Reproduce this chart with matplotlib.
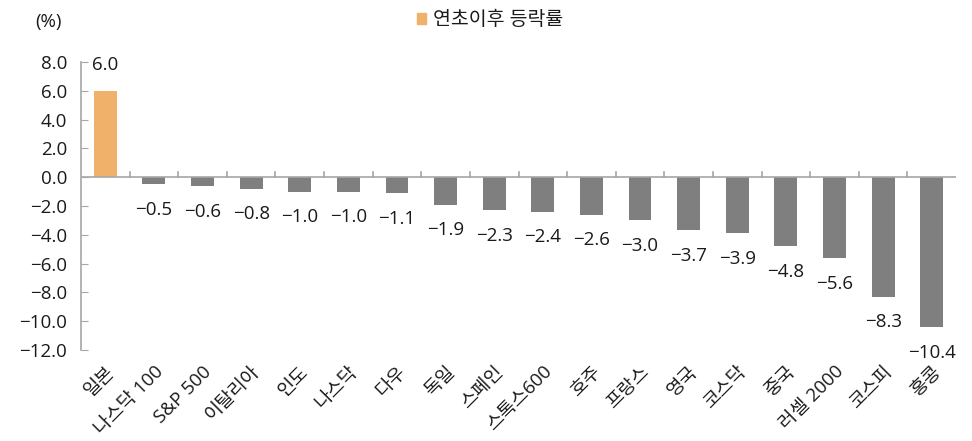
import matplotlib
matplotlib.use("Agg")
import matplotlib.pyplot as plt
from matplotlib.patches import Patch
import numpy as np

plt.rcParams['font.family'] = ['Open Sans', 'Noto Sans CJK KR', 'DejaVu Sans']
plt.rcParams['axes.unicode_minus'] = True

names = ["일본", "나스닥 100", "S&P 500", "이탈리아", "인도", "나스닥", "다우", "독일", "스페인",
         "스톡스600", "호주", "프랑스", "영국", "코스닥", "중국", "러셀 2000", "코스피", "홍콩"]
values = [6.0, -0.5, -0.6, -0.8, -1.0, -1.0, -1.1, -1.9, -2.3,
          -2.4, -2.6, -3.0, -3.7, -3.9, -4.8, -5.6, -8.3, -10.4]
series_name = "연초이후 등락률"
yticks = [8, 6, 4, 2, 0, -2, -4, -6, -8, -10, -12]

orange = "#F0B26B"
gray = "#7F7F7F"
axis_gray = "#A6A6A6"
txt = "#1a1a1a"
fs = 13.5

def fmt(v):
    return f"{v:.1f}".replace("-", "\u2212")

fig = plt.figure(figsize=(9.72, 4.41), dpi=100)
ax = fig.add_axes([81 / 972, 1 - 350 / 441, 875 / 972, 288 / 441])

x = np.arange(len(values))
colors = [orange if v > 0 else gray for v in values]
ax.bar(x, values, width=0.47, color=colors, zorder=2)

for xi, v in zip(x, values):
    off = 12 if v > 0 else -12
    ax.annotate(fmt(v), (xi, v), xytext=(0, off), textcoords="offset points",
                ha="center", va="bottom" if v > 0 else "top", fontsize=fs, color=txt)

ax.set_xlim(-0.5, len(values) - 0.5)
ax.set_ylim(-12, 8)
ax.set_yticks(yticks)
ax.set_yticklabels([fmt(t) for t in yticks], fontsize=fs, color=txt)
ax.tick_params(axis="y", direction="in", length=5, color=axis_gray, pad=10)

# category labels
ax.set_xticks(x)
ax.set_xticklabels(names, rotation=45, ha="right", rotation_mode="anchor", fontsize=13.5, color=txt)
ax.tick_params(axis="x", length=0, pad=9)

# zero line with category boundary ticks
ax.axhline(0, color=axis_gray, lw=1.2, zorder=3)
for b in np.arange(0.5, len(values) - 0.5, 1):
    ax.plot([b, b], [0, 0.35], color=axis_gray, lw=1.2, zorder=3)

for s in ["top", "right", "bottom"]:
    ax.spines[s].set_visible(False)
ax.spines["left"].set_color(axis_gray)
ax.spines["left"].set_linewidth(1.2)

fig.text(35 / 972, 1 - 22 / 441, "(%)", fontsize=fs, color=txt, va="center")

leg = fig.legend(handles=[Patch(color=orange)], labels=[series_name], loc="center",
                 bbox_to_anchor=(490 / 972, 1 - 20 / 441), frameon=False, fontsize=14,
                 handlelength=0.5, handleheight=0.5, handletextpad=0.35)
for t in leg.get_texts():
    t.set_color(txt)

fig.savefig("out.png", dpi=100)
